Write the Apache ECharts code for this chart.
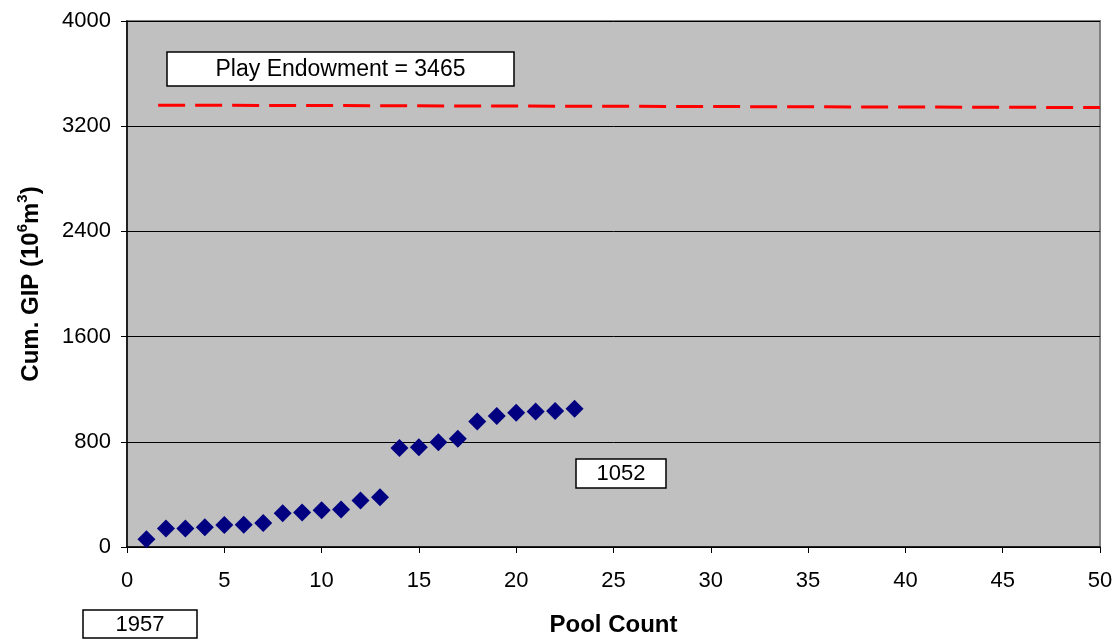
<!DOCTYPE html>
<html>
<head>
<meta charset="utf-8">
<script src="https://cdn.jsdelivr.net/npm/echarts@6/dist/echarts.min.js"></script>
<style>html,body{margin:0;padding:0;background:#fff;}#c{width:1119px;height:642px;}</style>
</head>
<body>
<div id="c"></div>
<script>
var poolCount = [1,2,3,4,5,6,7,8,9,10,11,12,13,14,15,16,17,18,19,20,21,22,23];
var cumGIP = [59,140,140,150,168,170,183,256,262,279,285,353,378,752,759,797,823,955,996,1021,1031,1034,1052];
var endowmentLineX = [1.6, 50];
var endowmentLineY = [3360, 3342];
var endowmentLabel = 'Play Endowment = 3465';
var lastValueLabel = '1052';
var yearLabel = '1957';

var chart = echarts.init(document.getElementById('c'));
var font = '"Liberation Sans", Arial, sans-serif';
function plain(v){ return String(v); }
chart.setOption({
  backgroundColor: '#ffffff',
  animation: false,
  grid: {left: 127, top: 21, width: 973, height: 527, show: true, backgroundColor: '#C0C0C0', borderColor: '#808080', borderWidth: 2},
  xAxis: {
    type: 'value', min: 0, max: 50, interval: 5,
    name: 'Pool Count', nameLocation: 'middle', nameGap: 66,
    nameTextStyle: {fontFamily: font, fontSize: 24, fontWeight: 'bold', color: '#000'},
    axisLine: {show: true, onZero: false, lineStyle: {color: '#000', width: 1.5}},
    axisTick: {show: true, inside: false, length: 6, lineStyle: {color: '#000'}},
    axisLabel: {fontFamily: font, fontSize: 22, color: '#000', margin: 23, formatter: plain},
    splitLine: {show: false}
  },
  yAxis: {
    type: 'value', min: 0, max: 4000, interval: 800,
    name: '{b|Cum. GIP (10}{s|6}{b|m}{s|3}{b|)}', nameLocation: 'middle', nameGap: 84,
    nameTextStyle: {
      fontFamily: font, fontSize: 24, fontWeight: 'bold', color: '#000',
      rich: {
        b: {fontFamily: font, fontSize: 24, fontWeight: 'bold', color: '#000', lineHeight: 28, verticalAlign: 'bottom'},
        s: {fontFamily: font, fontSize: 15, fontWeight: 'bold', color: '#000', lineHeight: 28, verticalAlign: 'top'}
      }
    },
    axisLine: {show: true, lineStyle: {color: '#000', width: 1.5}},
    axisTick: {show: true, inside: false, length: 6, lineStyle: {color: '#000'}},
    axisLabel: {fontFamily: font, fontSize: 22, color: '#000', margin: 16, padding: [4, 0, 0, 0], formatter: plain},
    splitLine: {show: true, lineStyle: {color: '#000', width: 1}}
  },
  series: [
    {
      type: 'scatter',
      data: poolCount.map(function(x, i){ return [x, cumGIP[i]]; }),
      symbol: 'diamond', symbolSize: [18, 18],
      itemStyle: {color: '#000080', opacity: 1},
      z: 5
    },
    {
      type: 'line',
      data: endowmentLineX.map(function(x, i){ return [x, endowmentLineY[i]]; }),
      symbol: 'none',
      lineStyle: {color: '#FF0000', width: 3, type: [27, 10]},
      z: 4
    }
  ],
  graphic: [
    {type: 'group', children: [
      {type: 'rect', shape: {x: 167, y: 52, width: 347, height: 34}, style: {fill: '#fff', stroke: '#000', lineWidth: 1.5}},
      {type: 'text', x: 340.5, y: 69.5, style: {text: endowmentLabel, fontFamily: font, fontSize: 23, fill: '#000', textAlign: 'center', textVerticalAlign: 'middle'}}
    ]},
    {type: 'group', children: [
      {type: 'rect', shape: {x: 576, y: 459, width: 90, height: 29}, style: {fill: '#fff', stroke: '#000', lineWidth: 1.5}},
      {type: 'text', x: 621, y: 474, style: {text: lastValueLabel, fontFamily: font, fontSize: 22, fill: '#000', textAlign: 'center', textVerticalAlign: 'middle'}}
    ]},
    {type: 'group', children: [
      {type: 'rect', shape: {x: 83, y: 610, width: 114, height: 28}, style: {fill: '#fff', stroke: '#000', lineWidth: 1.5}},
      {type: 'text', x: 140, y: 624.5, style: {text: yearLabel, fontFamily: font, fontSize: 22, fill: '#000', textAlign: 'center', textVerticalAlign: 'middle'}}
    ]}
  ]
});
</script>
</body>
</html>
